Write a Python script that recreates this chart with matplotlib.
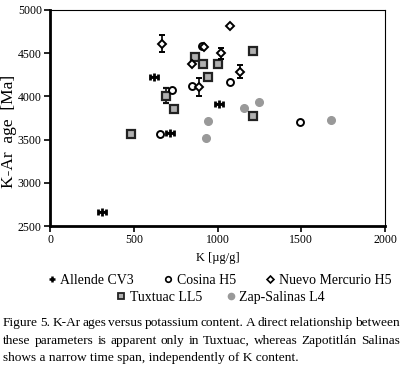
#!/usr/bin/env python3
"""
K-Ar ages versus potassium content (Figure 5)
"""
import matplotlib
matplotlib.use('Agg')
import matplotlib.pyplot as plt
from matplotlib.lines import Line2D

plt.rcParams['font.family'] = ['Liberation Serif', 'DejaVu Serif']

# Data: K [ug/g], age [Ma], age error [Ma]
allende_k = [310, 620, 715, 1010]
allende_age = [2660, 4220, 3580, 3915]
allende_kerr = [25, 25, 25, 25]

cosina_k = [655, 725, 850, 1075, 1490, 910]
cosina_age = [3565, 4070, 4120, 4165, 3700, 4580]

nuevo_k = [670, 1075, 1020, 850, 890, 1135, 920]
nuevo_age = [4610, 4810, 4500, 4380, 4110, 4285, 4570]
nuevo_err = [95, 0, 65, 0, 105, 75, 0]

tuxtuac_k = [485, 695, 740, 866, 915, 1000, 940, 1210, 1210]
tuxtuac_age = [3565, 4010, 3850, 4450, 4370, 4370, 4220, 4530, 3770]
tuxtuac_err = [0, 90, 0, 0, 0, 0, 0, 0, 0]

zap_k = [940, 930, 1155, 1250, 1680]
zap_age = [3710, 3520, 3860, 3930, 3730]

caption = [
    "Figure 5. K-Ar ages versus potassium content. A direct relationship between",
    "these parameters is apparent only in Tuxtuac, whereas Zapotitl\u00e1n Salinas",
    "shows a narrow time span, independently of K content.",
]

fig = plt.figure(figsize=(4.04, 3.67), dpi=100)
ax = fig.add_axes([0.124, 0.384, 0.829, 0.589])

# Zap-Salinas L4
ax.plot(zap_k, zap_age, 'o', color='#999999', ms=5.5, mec='#999999', zorder=2)

# Tuxtuac LL5
ax.errorbar(tuxtuac_k, tuxtuac_age, yerr=tuxtuac_err, fmt='s', ms=6,
            mfc='#b0b0b0', mec='#222222', mew=1.6, ecolor='#111111',
            elinewidth=1.2, capsize=2.5, zorder=3)

# Cosina H5
ax.plot(cosina_k, cosina_age, 'o', ms=5, mfc='white', mec='black', mew=1.4, zorder=4)

# Nuevo Mercurio H5
ax.errorbar(nuevo_k, nuevo_age, yerr=nuevo_err, fmt='D', ms=4, mfc='white',
            mec='black', mew=1.4, ecolor='black', elinewidth=1.2,
            capsize=2.5, zorder=5)

# Allende CV3
ax.errorbar(allende_k, allende_age, xerr=allende_kerr, fmt='+', ms=6,
            mew=2, color='black', elinewidth=1.6, capsize=2, zorder=6)

ax.set_xlim(0, 2000)
ax.set_ylim(2500, 5000)
ax.set_xticks([0, 500, 1000, 1500, 2000])
ax.set_yticks([2500, 3000, 3500, 4000, 4500, 5000])
ax.tick_params(labelsize=8.5, direction='out', length=4, width=1.2, pad=2)
ax.spines['left'].set_linewidth(2)
ax.spines['bottom'].set_linewidth(2)
ax.spines['top'].set_linewidth(0.8)
ax.spines['right'].set_linewidth(0.8)
ax.set_ylabel('K-Ar  age  [Ma]', fontsize=12.5)
ax.yaxis.set_label_coords(-0.1, 0.44)
ax.set_xlabel('K [\u00b5g/g]', fontsize=9, labelpad=4)

# Legend in two rows
h_all = Line2D([], [], ls='none', marker='+', ms=5, mew=1.8, color='black')
h_cos = Line2D([], [], ls='none', marker='o', ms=4, mfc='white', mec='black', mew=1.2)
h_nue = Line2D([], [], ls='none', marker='D', ms=3.5, mfc='white', mec='black', mew=1.2)
h_tux = Line2D([], [], ls='none', marker='s', ms=5, mfc='#b0b0b0', mec='#222222', mew=1.3)
h_zap = Line2D([], [], ls='none', marker='o', ms=4.5, color='#999999')

fig.legend([h_all, h_cos, h_nue], ['Allende CV3', 'Cosina H5', 'Nuevo Mercurio H5'],
           loc='center', bbox_to_anchor=(0.543, 0.237), ncol=3, frameon=False,
           fontsize=10, handlelength=0.6, handletextpad=0.3, columnspacing=2.2,
           borderpad=0)
fig.legend([h_tux, h_zap], ['Tuxtuac LL5', 'Zap-Salinas L4'],
           loc='center', bbox_to_anchor=(0.547, 0.19), ncol=2, frameon=False,
           fontsize=10, handlelength=0.6, handletextpad=0.3, columnspacing=1.8,
           borderpad=0)

# Caption, justified for the first two lines
renderer = fig.canvas.get_renderer()
x_left, x_right = 3, 400
W = fig.bbox.width
for i, line in enumerate(caption):
    y = 0.12 - i * 0.048
    words = line.split(' ')
    if i == len(caption) - 1:
        fig.text(x_left / W, y, line, fontsize=9.6, ha='left', va='center')
        continue
    texts = [fig.text(0, y, w, fontsize=9.6, ha='left', va='center') for w in words]
    widths = [t.get_window_extent(renderer).width for t in texts]
    gap = (x_right - x_left - sum(widths)) / (len(words) - 1)
    xpos = x_left
    for t, w in zip(texts, widths):
        t.set_x(xpos / W)
        xpos += w + gap

plt.savefig('out.png', dpi=100)
plt.close()
